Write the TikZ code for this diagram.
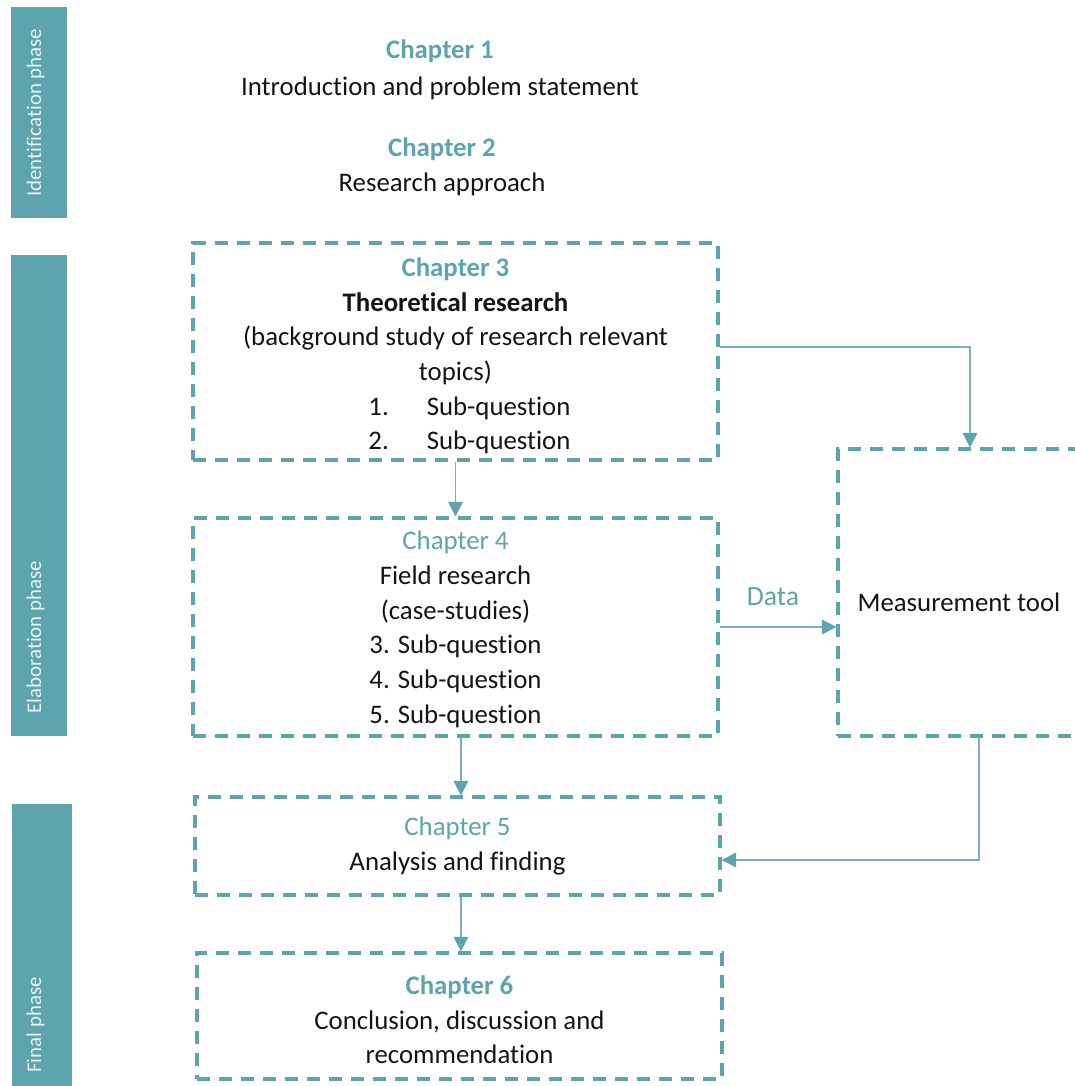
\documentclass[tikz,border=0pt]{standalone}
\usepackage{fontspec}
\setmainfont{Carlito}[Ligatures=NoCommon]
\usetikzlibrary{arrows.meta}
\definecolor{tealmain}{RGB}{93,164,174}
\definecolor{tealline}{RGB}{118,178,187}
\definecolor{bartext}{RGB}{232,243,245}
\definecolor{ink}{RGB}{20,20,20}
\begin{document}
\begin{tikzpicture}[x=0.75pt,y=-0.75pt,
  txt/.style={font=\fontsize{20.1}{26}\selectfont, text=ink, align=center, inner sep=0pt},
  chapbox/.style={draw=tealmain, line width=2.3pt, dash pattern=on 10pt off 6.5pt,
    inner sep=0pt, minimum width=393.75pt},
  barlabel/.style={rotate=90, anchor=west, text=bartext, inner sep=0pt,
    font=\fontsize{15.7}{18}\selectfont},
  conn/.style={draw=tealline, line width=1.1pt,
    -{Triangle[length=11pt,width=11pt,color=tealmain,fill=tealmain]}}]
\newcommand{\chead}[1]{{\color{tealmain}#1}}

\useasboundingbox (0,0) rectangle (1075,1086);
\clip (0,0) rectangle (1075,1086);

% phase bars
\fill[tealmain] (11,7) rectangle (67,218);
\fill[tealmain] (11,255) rectangle (67,736);
\fill[tealmain] (12,804) rectangle (72,1086);
\node[barlabel] (idlabel) at (35.5,197) {Identification phase};
\node[barlabel] (elablabel) at (35.5,714) {Elaboration phase};
\node[barlabel] (finallabel) at (35.5,1073) {Final phase};

% chapters 1 and 2
\node[txt] (ch1) at (440,70) {\chead{\bfseries Chapter 1}\\[1.5pt]Introduction and problem statement};
\node[txt] (ch2) at (442,167) {\chead{\bfseries Chapter 2}\\Research approach};

% chapter boxes
\node[chapbox, minimum height=162.75pt] (ch3) at (455.5,351.5) {};
\node[txt] (ch3text) at ([yshift=-3.4pt]ch3.center)
  {\chead{\bfseries Chapter 3}\\
   {\bfseries Theoretical research}\\
   (background study of research relevant\\
   topics)\hspace*{10.5pt}\\
   \hspace*{21pt}1.\hspace{28.5pt}Sub-question\\
   \hspace*{21pt}2.\hspace{28.5pt}Sub-question};

\node[chapbox, minimum height=163.5pt] (ch4) at (455.5,627) {};
\node[txt] (ch4text) at ([yshift=-1.8pt]ch4.center)
  {\chead{Chapter 4}\\
   Field research\\
   (case-studies)\\
   3. Sub-question\\
   4. Sub-question\\
   5. Sub-question};

\node[chapbox, minimum height=73.5pt] (ch5) at (457.5,846) {};
\node[txt] (ch5text) at (ch5.center) {\chead{Chapter 5}\\Analysis and finding};

\node[chapbox, minimum height=94.5pt] (ch6) at (459.5,1016) {};
\node[txt] (ch6text) at ([yshift=-3pt]ch6.center)
  {\chead{\bfseries Chapter 6}\\Conclusion, discussion and\\recommendation};

% measurement tool (open to the right)
\node[chapbox, minimum width=181.5pt, minimum height=215.25pt] (tool) at (959,592.5) {};
\node[txt] (tooltext) at (959,602) {Measurement tool};

% connectors
\draw[conn] ([yshift=3.4pt]ch3.east) -| ([xshift=8.25pt]tool.north);
\draw[conn] (ch3.south) -- (ch4.north);
\draw[conn] ([xshift=4.1pt]ch4.south) -- ([xshift=4.1pt]ch4.south |- ch5.north);
\draw[conn] ([xshift=2.6pt]ch5.south) -- ([xshift=2.6pt]ch5.south |- ch6.north);
\draw[conn] (ch4.east) -- (ch4.east -| tool.west);
\node[txt, text=tealmain, font=\fontsize{20.8}{26}\selectfont] (datalbl) at (773,597) {Data};
\draw[conn] ([xshift=15pt]tool.south) |- ([yshift=-10.5pt]ch5.east);
\end{tikzpicture}
\end{document}
